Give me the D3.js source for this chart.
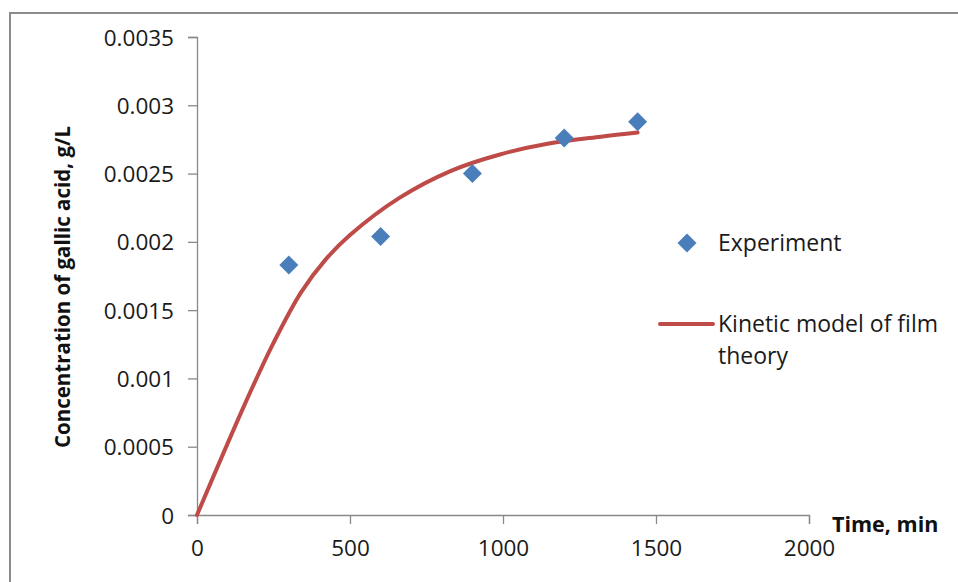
<!DOCTYPE html>
<html>
<head>
<meta charset="utf-8">
<script src="https://cdn.jsdelivr.net/npm/d3@7"></script>
<style>
  body { margin: 0; background: #fff; }
  svg { display: block; font-family: 'Open Sans', 'Noto Sans', sans-serif; }
</style>
</head>
<body>
<svg id="chart" width="958" height="582"></svg>
<script>
// experiment points
const expTime = [300, 600, 900, 1200, 1440]
const expConc = [0.00183, 0.00204, 0.0025, 0.00276, 0.00288]

// kinetic model (film theory)
const modelTime = [0, 160, 250, 340, 420, 500, 660, 830, 990, 1150, 1320, 1440]
const modelConc = [0, 0.00083, 0.00126, 0.00163, 0.00187, 0.00205, 0.00232, 0.00252, 0.00264, 0.00272, 0.00277, 0.0028]

const xTicks = [0, 500, 1000, 1500, 2000]
const yTicks = [0, 0.0005, 0.001, 0.0015, 0.002, 0.0025, 0.003, 0.0035]
const yTickLabels = ['0', '0.0005', '0.001', '0.0015', '0.002', '0.0025', '0.003', '0.0035']

const blue = '#4a7ebb'
const red = '#be4b48'
const axisGray = '#898989'

const svg = d3.select('#chart')

// outer chart frame
svg.append('path')
  .attr('d', 'M10,590 L10,13 L970,13')
  .attr('fill', 'none')
  .attr('stroke', '#8c8c8c')
  .attr('stroke-width', 2)

const x = d3.scaleLinear().domain([0, 2000]).range([197, 809])
const y = d3.scaleLinear().domain([0, 0.0035]).range([515, 37])

const xAxis = svg.append('g')
  .attr('transform', `translate(0,${y(0)})`)
  .call(d3.axisBottom(x).tickValues(xTicks).tickSize(9).tickPadding(13).tickFormat(d3.format('d')))
const yAxis = svg.append('g')
  .attr('transform', `translate(${x(0)},0)`)
  .call(d3.axisLeft(y).tickValues(yTicks).tickSize(9).tickPadding(14)
    .tickFormat((d, i) => yTickLabels[i]))

;[xAxis, yAxis].forEach((g) => {
  g.select('.domain').attr('stroke', axisGray).attr('stroke-width', 1.3)
  g.selectAll('.tick line').attr('stroke', axisGray).attr('stroke-width', 1.3)
  g.selectAll('.tick text')
    .attr('fill', '#1a1a1a')
    .style('font-size', '22.5px')
    .style('font-family', "'Open Sans', sans-serif")
})
xAxis.selectAll('.tick text').attr('dy', '0.85em')
yAxis.selectAll('.tick text').attr('dy', '0.36em')

// axis titles
svg.append('text')
  .attr('transform', `translate(70,${(y(0) + y(0.0035)) / 2 + 11}) rotate(-90)`)
  .attr('text-anchor', 'middle')
  .style('font-size', '20.5px')
  .style('font-weight', 'bold')
  .attr('fill', '#111')
  .text('Concentration of gallic acid, g/L')

svg.append('text')
  .attr('x', 832)
  .attr('y', 532)
  .style('font-size', '21.5px')
  .style('font-weight', 'bold')
  .attr('fill', '#111')
  .text('Time, min')

// model curve
const line = d3.line()
  .x((d) => x(d[0]))
  .y((d) => y(d[1]))
  .curve(d3.curveCatmullRom.alpha(0.5))

svg.append('path')
  .datum(modelTime.map((t, i) => [t, modelConc[i]]))
  .attr('d', line)
  .attr('fill', 'none')
  .attr('stroke', red)
  .attr('stroke-width', 4)
  .attr('stroke-linecap', 'round')

// experiment diamonds
const diamond = d3.symbol().type(d3.symbolSquare).size(180)
svg.selectAll('.exp')
  .data(expTime.map((t, i) => [t, expConc[i]]))
  .join('path')
  .attr('class', 'exp')
  .attr('d', diamond)
  .attr('transform', (d) => `translate(${x(d[0])},${y(d[1])}) rotate(45)`)
  .attr('fill', blue)

// legend
const legend = svg.append('g').style('font-size', '23px').attr('fill', '#1a1a1a')
legend.append('path')
  .attr('d', diamond)
  .attr('transform', 'translate(687,243) rotate(45)')
  .attr('fill', blue)
legend.append('text').attr('x', 718).attr('y', 251).text('Experiment')

legend.append('line')
  .attr('x1', 660).attr('x2', 713)
  .attr('y1', 324).attr('y2', 324)
  .attr('stroke', red)
  .attr('stroke-width', 4)
  .attr('stroke-linecap', 'round')
legend.append('text').attr('x', 718).attr('y', 332).text('Kinetic model of film')
legend.append('text').attr('x', 718).attr('y', 364).text('theory')
</script>
</body>
</html>
